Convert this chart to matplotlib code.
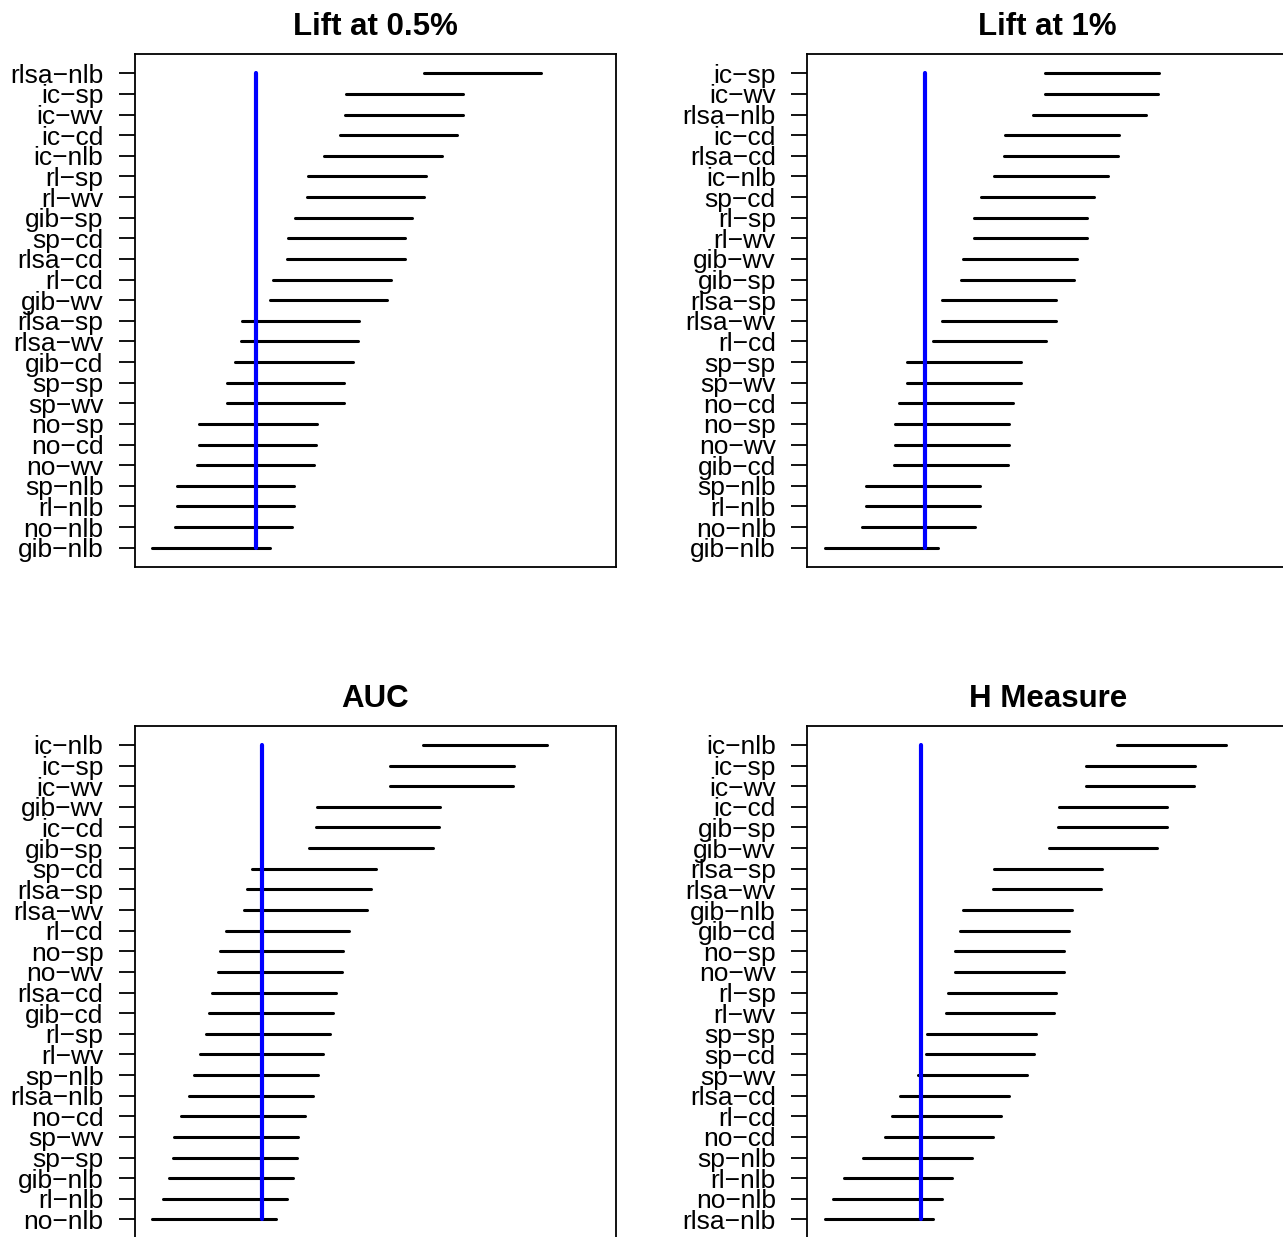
import matplotlib
matplotlib.use("Agg")
import matplotlib.pyplot as plt

plt.rcParams['font.family'] = ['Liberation Sans', 'DejaVu Sans']

# ---- data: mean-rank centres (top row first), critical difference, reference line ----
titles = ["Lift at 0.5%", "Lift at 1%", "AUC", "H Measure"]

labels_lift05 = ["rlsa−nlb", "ic−sp", "ic−wv", "ic−cd", "ic−nlb", "rl−sp", "rl−wv", "gib−sp",
                 "sp−cd", "rlsa−cd", "rl−cd", "gib−wv", "rlsa−sp", "rlsa−wv", "gib−cd", "sp−sp",
                 "sp−wv", "no−sp", "no−cd", "no−wv", "sp−nlb", "rl−nlb", "no−nlb", "gib−nlb"]
centres_lift05 = [17.35, 13.45, 13.42, 13.14, 12.37, 11.57, 11.49, 10.89, 10.56, 10.53, 9.83, 9.65,
                  8.25, 8.20, 7.93, 7.50, 7.50, 6.14, 6.10, 6.00, 5.02, 5.02, 4.90, 3.79]
cd_lift05 = 5.85
ref_lift05 = 6.04

labels_lift1 = ["ic−sp", "ic−wv", "rlsa−nlb", "ic−cd", "rlsa−cd", "ic−nlb", "sp−cd", "rl−sp",
                "rl−wv", "gib−wv", "gib−sp", "rlsa−sp", "rlsa−wv", "rl−cd", "sp−sp", "sp−wv",
                "no−cd", "no−sp", "no−wv", "gib−cd", "sp−nlb", "rl−nlb", "no−nlb", "gib−nlb"]
centres_lift1 = [14.70, 14.68, 14.08, 12.70, 12.65, 12.17, 11.49, 11.14, 11.14, 10.61, 10.49, 9.58,
                 9.58, 9.09, 7.83, 7.83, 7.41, 7.21, 7.21, 7.18, 5.78, 5.78, 5.55, 3.70]
cd_lift1 = 5.67
ref_lift1 = 5.89

labels_auc = ["ic−nlb", "ic−sp", "ic−wv", "gib−wv", "ic−cd", "gib−sp", "sp−cd", "rlsa−sp",
              "rlsa−wv", "rl−cd", "no−sp", "no−wv", "rlsa−cd", "gib−cd", "rl−sp", "rl−wv",
              "sp−nlb", "rlsa−nlb", "no−cd", "sp−wv", "sp−sp", "gib−nlb", "rl−nlb", "no−nlb"]
centres_auc = [17.46, 15.83, 15.80, 12.15, 12.10, 11.76, 8.93, 8.68, 8.50, 7.61, 7.31, 7.25,
               6.92, 6.80, 6.62, 6.32, 6.03, 5.80, 5.39, 5.04, 4.99, 4.79, 4.49, 3.95]
cd_auc = 6.17
ref_auc = 6.35

labels_h = ["ic−nlb", "ic−sp", "ic−wv", "ic−cd", "gib−sp", "gib−wv", "rlsa−sp", "rlsa−wv",
            "gib−nlb", "gib−cd", "no−sp", "no−wv", "rl−sp", "rl−wv", "sp−sp", "sp−cd",
            "sp−wv", "rlsa−cd", "rl−cd", "no−cd", "sp−nlb", "rl−nlb", "no−nlb", "rlsa−nlb"]
centres_h = [18.16, 16.61, 16.60, 15.25, 15.22, 14.75, 12.01, 11.96, 10.48, 10.34, 10.09, 10.08,
             9.71, 9.61, 8.70, 8.61, 8.25, 7.33, 6.93, 6.57, 5.50, 4.52, 4.01, 3.57]
cd_h = 5.42
ref_h = 5.65

panels = [
    (titles[0], labels_lift05, centres_lift05, cd_lift05, ref_lift05),
    (titles[1], labels_lift1, centres_lift1, cd_lift1, ref_lift1),
    (titles[2], labels_auc, centres_auc, cd_auc, ref_auc),
    (titles[3], labels_h, centres_h, cd_h, ref_h),
]

# ---- layout (figure is a crop of a larger 2x2 R device) ----
W, H = 1283, 1237
fig = plt.figure(figsize=(W / 100, H / 100), dpi=100)

ax_w = 481 / W
ax_h = 512.4 / H
lefts = [135 / W, 807.3 / W]
tops_px = [54.3, 726.0]

for idx, (title, labels, centres, cd, ref) in enumerate(panels):
    r, c = divmod(idx, 2)
    bottom = (H - (tops_px[r] + 512.4)) / H
    ax = fig.add_axes([lefts[c], bottom, ax_w, ax_h])
    n = len(labels)
    ys = [n - i for i in range(n)]
    for y, m in zip(ys, centres):
        ax.plot([m - cd / 2, m + cd / 2], [y, y], color='black', lw=2.2,
                solid_capstyle='round', zorder=2)
    ax.plot([ref, ref], [1, n], color='#0000ff', lw=3.0, solid_capstyle='round', zorder=3)

    ax.set_xlim(0, 24)
    ax.set_ylim(1 - 0.04 * (n - 1), n + 0.04 * (n - 1))
    ax.set_yticks(ys)
    ax.set_yticklabels(labels, fontsize=19)
    ax.set_xticks([])
    ax.tick_params(axis='y', direction='out', length=11.2, width=1.3, pad=11.5, colors='black')
    for sp in ax.spines.values():
        sp.set_linewidth(1.3)
        sp.set_color('black')
    ax.set_title(title, fontsize=22.5, fontweight='bold', pad=13.7)

fig.savefig("out.png", dpi=100)
